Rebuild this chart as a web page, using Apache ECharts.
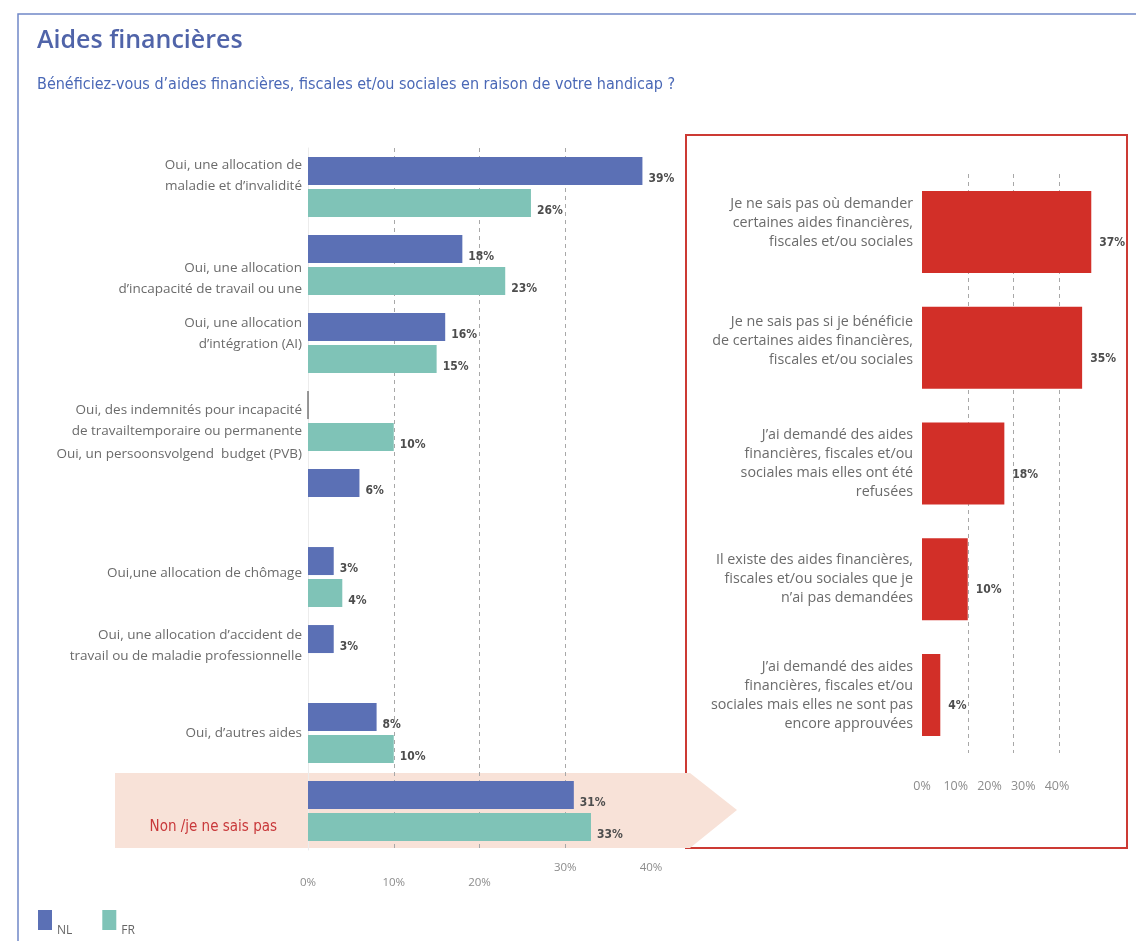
<!DOCTYPE html>
<html lang="fr">
<head>
<meta charset="utf-8">
<title>Aides financières</title>
<script src="https://cdn.jsdelivr.net/npm/echarts/dist/echarts.min.js"></script>
<style>
  html, body { margin: 0; padding: 0; background: #ffffff; }
  #chart { width: 1136px; height: 941px; }
</style>
</head>
<body>
<div id="chart"></div>
<script>
// Survey answers, shares in percent
const benefitCategories = [
  'Oui, une allocation de\nmaladie et d’invalidité',
  'Oui, une allocation\nd’incapacité de travail ou une',
  'Oui, une allocation\nd’intégration (AI)',
  'Oui, des indemnités pour incapacité\nde travailtemporaire ou permanente',
  'Oui, un persoonsvolgend  budget (PVB)',
  'Oui,une allocation de chômage',
  'Oui, une allocation d’accident de\ntravail ou de maladie professionnelle',
  'Oui, d’autres aides',
  'Non /je ne sais pas'
];
const nlValues = [39, 18, 16, 0, 6, 3, 3, 8, 31];
const frValues = [26, 23, 15, 10, null, 4, null, 10, 33];

const reasonCategories = [
  'Je ne sais pas où demander\ncertaines aides financières,\nfiscales et/ou sociales',
  'Je ne sais pas si je bénéficie\nde certaines aides financières,\nfiscales et/ou sociales',
  'J’ai demandé des aides\nfinancières, fiscales et/ou\nsociales mais elles ont été\nrefusées',
  'Il existe des aides financières,\nfiscales et/ou sociales que je\nn’ai pas demandées',
  'J’ai demandé des aides\nfinancières, fiscales et/ou\nsociales mais elles ne sont pas\nencore approuvées'
];
const reasonValues = [37, 35, 18, 10, 4];

const axisMax = 40;
const axisStep = 10;

// ---- styling ----
const NL_COLOR = '#5b70b5';
const FR_COLOR = '#7fc3b7';
const RED = '#d22f28';
const LABEL_FONT = '"Open Sans", "DejaVu Sans", sans-serif';
const NARROW_FONT = '"Liberation Sans Narrow", "DejaVu Sans Condensed", sans-serif';

// vertical nudge (px) of each category label
const benefitLabelShift = [-11, 14, -9, 0, -45, -4, -9, 0, 16];
const reasonLabelShift = [-9, -7, 0, 0, 0];

const richLeft = {
  t: { fontFamily: LABEL_FONT, fontSize: 13.5, color: '#6b6b6b', lineHeight: 21, align: 'right' },
  r: { fontFamily: NARROW_FONT, fontSize: 15, color: '#c8383a', lineHeight: 21, align: 'right', padding: [0, 25, 0, 0] }
};
const richRight = {
  t: { fontFamily: LABEL_FONT, fontSize: 14.3, color: '#6b6b6b', lineHeight: 19, align: 'right' }
};

// spacer rows used to push a multi-line label up or down
function addSpacers(rich, shifts) {
  shifts.forEach(s => {
    const h = Math.abs(2 * s);
    if (h) rich['sp' + h] = { fontSize: 2, lineHeight: h };
  });
}
addSpacers(richLeft, benefitLabelShift);
addSpacers(richRight, reasonLabelShift);

function shiftedLabel(name, shift, style) {
  let body = name.split('\n').map(l => '{' + style + '|' + l + '}').join('\n');
  const h = Math.abs(2 * shift);
  if (shift > 0) body = '{sp' + h + '| }\n' + body;
  if (shift < 0) body = body + '\n{sp' + h + '| }';
  return body;
}

const dashed = { type: [4, 4], width: 1, color: ['transparent', '#a8a8a8', '#a8a8a8', '#a8a8a8', 'transparent'] };

const valueLabel = {
  show: true,
  position: 'right',
  distance: 6,
  offset: [0, 8],
  fontFamily: NARROW_FONT,
  fontWeight: 'bold',
  fontSize: 12,
  color: '#4d4d4d',
  formatter: p => (p.value ? p.value + '%' : '')
};

const chart = echarts.init(document.getElementById('chart'));

chart.setOption({
  animation: false,
  title: [
    {
      text: 'Aides financières',
      left: 32, top: 23,
      textStyle: { fontFamily: '"Open Sans", sans-serif', fontWeight: 600, fontSize: 25, color: '#5064a9' }
    },
    {
      text: 'Bénéficiez-vous d’aides financières, fiscales et/ou sociales en raison de votre handicap ?',
      left: 32, top: 72,
      textStyle: { fontFamily: NARROW_FONT, fontWeight: 'normal', fontSize: 16, color: '#4a68b6' }
    }
  ],
  legend: {
    data: ['NL', 'FR'],
    left: 33, top: 905,
    icon: 'rect',
    itemWidth: 14, itemHeight: 20,
    itemGap: 30,
    formatter: '{a|{name}}',
    textStyle: {
      rich: { a: { fontFamily: LABEL_FONT, fontSize: 12, color: '#666', padding: [22, 0, 0, 0] } }
    }
  },
  graphic: [
    // outer blue frame
    { type: 'polyline', z: -3, silent: true,
      shape: { points: [[18, 941], [18, 14], [1136, 14]] },
      style: { stroke: '#7088c8', lineWidth: 1.5, fill: null } },
    // red panel around the follow-up question
    { type: 'rect', z: -2, silent: true,
      shape: { x: 686, y: 135, width: 441, height: 713 },
      style: { stroke: '#cc3a34', lineWidth: 2, fill: null } },
    // arrow band behind the "Non" answer
    { type: 'polygon', z: -1, silent: true,
      shape: { points: [[115, 773], [690, 773], [737, 810], [690, 848], [115, 848]] },
      style: { fill: '#f8e2d8' } }
  ],
  grid: [
    { left: 308, right: 485, top: 148, bottom: 91, containLabel: false },
    { left: 922, right: 31, top: 174, bottom: 188, containLabel: false },
    { left: 922, right: 79, top: 700, bottom: 171, containLabel: false }
  ],
  xAxis: [
    {
      gridIndex: 0, type: 'value', min: 0, max: axisMax, interval: axisStep,
      axisLine: { show: false }, axisTick: { show: false },
      splitLine: { show: true, lineStyle: dashed },
      axisLabel: {
        margin: 12,
        formatter: v => (v >= 30 ? '{u|' + v + '%}' : '{d|' + v + '%}'),
        rich: {
          u: { fontFamily: LABEL_FONT, fontSize: 11.5, color: '#8c8c8c' },
          d: { fontFamily: LABEL_FONT, fontSize: 11.5, color: '#8c8c8c', padding: [15, 0, 0, 0] }
        }
      }
    },
    {
      gridIndex: 1, type: 'value', min: 0, max: axisMax, interval: axisStep,
      axisLine: { show: false }, axisTick: { show: false },
      splitLine: { show: true, lineStyle: dashed },
      axisLabel: { show: false }
    },
    {
      gridIndex: 2, type: 'value', min: 0, max: axisMax, interval: axisStep,
      axisLine: { show: false }, axisTick: { show: false }, splitLine: { show: false },
      axisLabel: { margin: 10, fontFamily: LABEL_FONT, fontSize: 12.5, color: '#8c8c8c', formatter: '{value}%' }
    }
  ],
  yAxis: [
    {
      gridIndex: 0, type: 'category', inverse: true, data: benefitCategories,
      axisLine: { show: true, lineStyle: { color: '#ececec' } }, axisTick: { show: false },
      axisLabel: {
        margin: 6,
        formatter: (v, i) => shiftedLabel(v, benefitLabelShift[i] || 0, i === benefitCategories.length - 1 ? 'r' : 't'),
        rich: richLeft
      }
    },
    {
      gridIndex: 1, type: 'category', inverse: true, data: reasonCategories,
      axisLine: { show: false }, axisTick: { show: false },
      axisLabel: {
        margin: 9,
        formatter: (v, i) => shiftedLabel(v, reasonLabelShift[i] || 0, 't'),
        rich: richRight
      }
    },
    { gridIndex: 2, type: 'category', data: [''], show: false }
  ],
  series: [
    {
      name: 'NL', type: 'bar', xAxisIndex: 0, yAxisIndex: 0,
      barWidth: 28, barGap: '14%',
      itemStyle: { color: NL_COLOR },
      label: valueLabel,
      data: nlValues.map(v => (v === 0
        ? { value: 0, itemStyle: { borderColor: '#777', borderWidth: 1 } }
        : v))
    },
    {
      name: 'FR', type: 'bar', xAxisIndex: 0, yAxisIndex: 0,
      barWidth: 28, barGap: '14%',
      itemStyle: { color: FR_COLOR },
      label: valueLabel,
      data: frValues
    },
    {
      name: 'Raisons', type: 'bar', xAxisIndex: 1, yAxisIndex: 1,
      barWidth: 82,
      itemStyle: { color: RED },
      label: Object.assign({}, valueLabel, { offset: [0, 11], distance: 8 }),
      data: reasonValues
    }
  ]
});
</script>
</body>
</html>
